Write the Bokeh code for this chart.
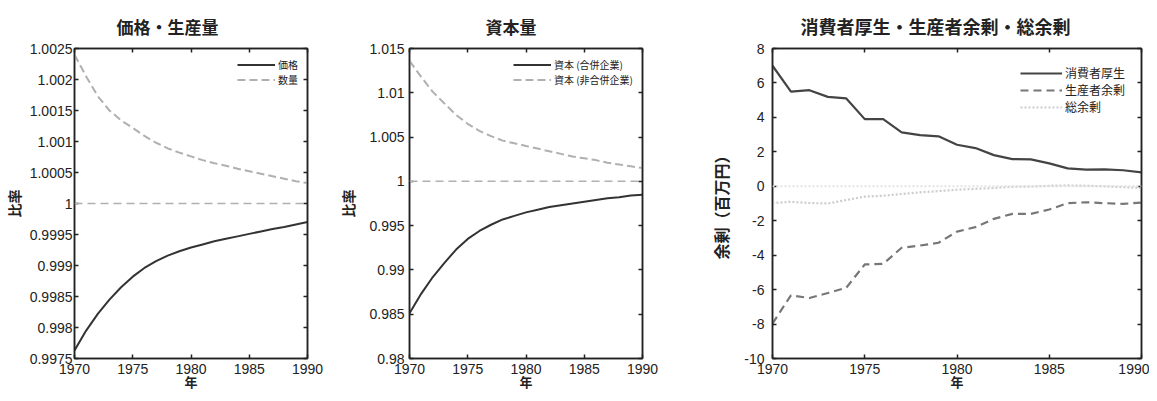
from bokeh.plotting import figure
from bokeh.models import (Range1d, FixedTicker, LinearAxis, CustomJSTickFormatter,
                          Span, Legend, LegendItem)
from bokeh.layouts import row
from bokeh.embed import file_html
from bokeh.resources import INLINE

# ---------------- data ----------------
years = list(range(1970, 1991))

price = [0.99763, 0.99795, 0.99822, 0.99845, 0.99865, 0.99882, 0.99896, 0.99907,
         0.99916, 0.99923, 0.99929, 0.99934, 0.99939, 0.99943, 0.99947, 0.99951,
         0.99955, 0.99959, 0.99962, 0.99966, 0.99970]
quantity = [1.00240, 1.00205, 1.00173, 1.00150, 1.00134, 1.00122, 1.00109, 1.00098,
            1.00089, 1.00082, 1.00076, 1.00070, 1.00065, 1.00061, 1.00056, 1.00052,
            1.00048, 1.00044, 1.00040, 1.00036, 1.00033]

capital_merged = [0.9851, 0.9873, 0.9892, 0.9908, 0.9923, 0.9935, 0.9944, 0.9951,
                  0.9957, 0.9961, 0.9965, 0.9968, 0.9971, 0.9973, 0.9975, 0.9977,
                  0.9979, 0.9981, 0.9982, 0.9984, 0.9985]
capital_nonmerged = [1.0136, 1.0118, 1.0101, 1.0088, 1.0075, 1.0065, 1.0057, 1.0051,
                     1.0046, 1.0043, 1.0040, 1.0037, 1.0034, 1.0031, 1.0028, 1.0026,
                     1.0024, 1.0021, 1.0019, 1.0017, 1.0015]

consumer = [7.0, 5.5, 5.58, 5.19, 5.1, 3.9, 3.9, 3.13, 2.97, 2.9, 2.41, 2.22, 1.81,
            1.58, 1.56, 1.33, 1.04, 0.97, 0.98, 0.93, 0.81]
producer = [-7.97, -6.33, -6.49, -6.2, -5.89, -4.54, -4.5, -3.57, -3.44, -3.28, -2.63,
            -2.37, -1.89, -1.6, -1.6, -1.35, -0.98, -0.93, -0.98, -1.02, -0.95]
total = [-0.98, -0.9, -0.97, -1.0, -0.8, -0.6, -0.55, -0.45, -0.35, -0.28, -0.2,
         -0.15, -0.1, -0.03, -0.02, 0.03, 0.05, 0.03, 0.0, -0.05, -0.1]

x_ticks = [1970, 1975, 1980, 1985, 1990]
y1_ticks = [0.9975, 0.998, 0.9985, 0.999, 0.9995, 1.0, 1.0005, 1.001, 1.0015, 1.002, 1.0025]
y2_ticks = [0.98, 0.985, 0.99, 0.995, 1.0, 1.005, 1.01, 1.015]
y3_ticks = [-10, -8, -6, -4, -2, 0, 2, 4, 6, 8]

ratio_baseline = 1.0
surplus_baseline = 0.0

titles = ["価格・生産量", "資本量", "消費者厚生・生産者余剰・総余剰"]
ylabels = ["比率", "比率", "余剰（百万円）"]
xlabel = "年"
legend1 = ["価格", "数量"]
legend2 = ["資本 (合併企業)", "資本 (非合併企業)"]
legend3 = ["消費者厚生", "生産者余剰", "総余剰"]

CJK = "Noto Sans CJK JP"
NUM = "Liberation Sans"
FRAME = "#222222"


def make_fig(width, height, left, right, top, bottom, title, title_offset, yr, yticks,
             ylabel, ylab_standoff, ylabel_standoff):
    p = figure(width=width, height=height, output_backend="svg", toolbar_location=None,
               x_range=Range1d(1970, 1990), y_range=Range1d(*yr),
               min_border_left=left, min_border_right=right,
               min_border_top=top, min_border_bottom=bottom)
    p.title.text = title
    p.title.align = "left"
    p.title.offset = title_offset
    p.title.text_font = CJK
    p.title.text_font_size = "17px"
    p.title.text_font_style = "bold"
    p.title.text_color = "#222222"
    p.title.standoff = 20
    p.xgrid.visible = False
    p.ygrid.visible = False
    p.outline_line_color = FRAME
    p.outline_line_width = 1.5
    p.outline_line_alpha = 1.0
    p.background_fill_color = "white"
    p.border_fill_color = "white"

    fmt = CustomJSTickFormatter(code="return Number(tick.toFixed(6)).toString();")
    xt = FixedTicker(ticks=x_ticks)
    yt = FixedTicker(ticks=yticks)

    for ax in p.xaxis:
        ax.ticker = xt
        ax.formatter = fmt
    for ax in p.yaxis:
        ax.ticker = yt
        ax.formatter = fmt

    for ax in list(p.xaxis) + list(p.yaxis):
        ax.major_tick_in = 4
        ax.major_tick_out = 0
        ax.minor_tick_in = 0
        ax.minor_tick_out = 0
        ax.axis_line_color = FRAME
        ax.axis_line_width = 1.5
        ax.major_tick_line_color = FRAME
        ax.major_tick_line_width = 1.5
        ax.major_label_text_font = NUM
        ax.major_label_text_font_size = "14px"
        ax.major_label_text_color = "#222222"
        ax.axis_label_text_font = CJK
        ax.axis_label_text_font_style = "bold"
        ax.axis_label_text_color = "#222222"

    p.xaxis.major_label_standoff = 5
    p.xaxis.axis_label = xlabel
    p.xaxis.axis_label_text_font_size = "13px"
    p.xaxis.axis_label_standoff = -5
    p.yaxis.major_label_standoff = ylab_standoff
    p.yaxis.axis_label = ylabel
    p.yaxis.axis_label_text_font_size = "14px"
    p.yaxis.axis_label_standoff = ylabel_standoff

    # mirrored tick-only axes on top and right
    for loc, ticker in (("above", xt), ("right", yt)):
        ax = LinearAxis(ticker=ticker, formatter=fmt)
        ax.major_tick_in = 4
        ax.major_tick_out = 0
        ax.minor_tick_in = 0
        ax.minor_tick_out = 0
        ax.axis_line_color = FRAME
        ax.axis_line_width = 1.5
        ax.major_tick_line_color = FRAME
        ax.major_tick_line_width = 1.5
        ax.major_label_text_font_size = "0px"
        ax.major_label_text_alpha = 0
        ax.major_label_standoff = 0
        p.add_layout(ax, loc)
    return p


def add_legend(p, items, font_size, row_h, glyph_w, margin, padding):
    lg = Legend(items=items, location="top_right")
    lg.background_fill_alpha = 0
    lg.border_line_alpha = 0
    lg.label_text_font = CJK
    lg.label_text_font_size = font_size
    lg.label_text_color = "#222222"
    lg.glyph_width = glyph_w
    lg.glyph_height = row_h
    lg.label_height = row_h
    lg.spacing = 0
    lg.margin = margin
    lg.padding = padding
    lg.label_standoff = 3
    p.add_layout(lg)


# ---------------- panel 1 ----------------
p1 = make_fig(330, 401, 74, 23, 48, 40, titles[0], 42, (0.9975, 1.0025), y1_ticks,
              ylabels[0], 2, 3)
p1.add_layout(Span(location=ratio_baseline, dimension="width", line_color="#b0b0b0",
                   line_dash="8 5", line_width=1.5))
r_q = p1.line(years, quantity, line_color="#b0b0b0", line_width=2, line_dash="8 4")
r_p = p1.line(years, price, line_color="#333333", line_width=2)
add_legend(p1, [LegendItem(label=legend1[0], renderers=[r_p]),
                LegendItem(label=legend1[1], renderers=[r_q])],
           "10px", 13, 38, 4, 5)

# ---------------- panel 2 ----------------
p2 = make_fig(360, 401, 79, 48, 48, 40, titles[1], 76, (0.98, 1.015), y2_ticks,
              ylabels[1], 5, 8)
p2.add_layout(Span(location=ratio_baseline, dimension="width", line_color="#b0b0b0",
                   line_dash="8 5", line_width=1.5))
r_n = p2.line(years, capital_nonmerged, line_color="#b0b0b0", line_width=2, line_dash="8 4")
r_m = p2.line(years, capital_merged, line_color="#333333", line_width=2)
add_legend(p2, [LegendItem(label=legend2[0], renderers=[r_m]),
                LegendItem(label=legend2[1], renderers=[r_n])],
           "10px", 15, 38, 4, 5)

# ---------------- panel 3 ----------------
p3 = make_fig(459, 401, 82, 8, 48, 43, titles[2], 28, (-10, 8), y3_ticks,
              ylabels[2], 8, 8)
p3.title.text_font_size = "18px"
p3.yaxis.axis_label_text_font_size = "16px"
p3.add_layout(Span(location=surplus_baseline, dimension="width", line_color="#e2e2e2",
                   line_dash="2 2", line_width=2))
r_t = p3.line(years, total, line_color="#cccccc", line_width=2.2, line_dash="2 2")
r_pr = p3.line(years, producer, line_color="#777777", line_width=2.2, line_dash="8 5")
r_c = p3.line(years, consumer, line_color="#444444", line_width=2.2)
add_legend(p3, [LegendItem(label=legend3[0], renderers=[r_c]),
                LegendItem(label=legend3[1], renderers=[r_pr]),
                LegendItem(label=legend3[2], renderers=[r_t])],
           "12px", 16, 42, 8, 8)

layout = row(p1, p2, p3)
open("out.html", "w").write(file_html(layout, INLINE))
